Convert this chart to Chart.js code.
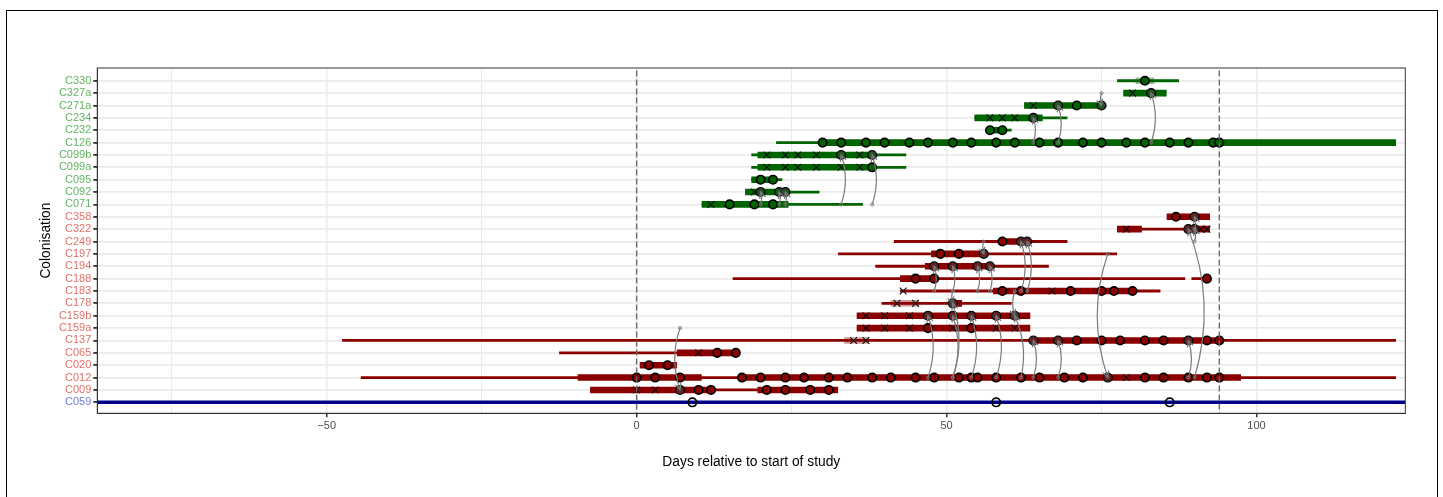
<!DOCTYPE html>
<html><head><meta charset="utf-8">
<script src="https://cdn.jsdelivr.net/npm/chart.js@4.4.1/dist/chart.umd.min.js"></script>
<style>
html,body{margin:0;padding:0;background:#fff;}
#wrap{position:relative;width:1443px;height:497px;overflow:hidden;background:#fff;}
#frame{position:absolute;left:6px;top:10px;width:1430px;height:520px;border:1px solid #000;pointer-events:none;}
canvas{position:absolute;left:0;top:0;}
</style></head><body>
<div id="wrap"><canvas id="c" width="1443" height="497" style="width:1443px;height:497px"></canvas><div id="frame"></div></div>
<script>
// ---------- data ----------
const rows = ['C059','C009','C012','C020','C065','C137','C159a','C159b','C178','C183','C188','C194','C197','C249','C322','C358','C071','C092','C095','C099a','C099b','C126','C232','C234','C271a','C327a','C330'];
const greenRows = ['C071','C092','C095','C099a','C099b','C126','C232','C234','C271a','C327a','C330'];
const blueRows = ['C059'];
const xTickValues = [-75,-50,-25,0,25,50,75,100];
const xLabelStep = 50;
const refDays = [0, 94];

const baseSpans = [['C059',-87,124]];
const thinSpans = [
  ['C009',-7.5,32.5],['C012',-44.5,122.5],['C065',-12.5,16.5],['C137',-47.5,122.5],
  ['C178',39.5,60.5],['C183',42.5,84.5],['C188',15.5,88.5],['C188',89.5,92.5],
  ['C194',38.5,66.5],['C197',32.5,77.5],['C249',41.5,69.5],['C322',77.5,92.5],
  ['C071',10.5,36.5],['C092',17.5,29.5],['C095',18.5,23.5],['C099a',18.5,43.5],
  ['C099b',18.5,43.5],['C126',22.5,122.5],['C232',56.5,60.5],['C234',54.5,69.5],
  ['C330',77.5,87.5]
];
const thickSpans = [
  ['C009',-7.5,12.5],['C009',19.5,32.5],['C012',-9.5,10.5],['C012',16.5,97.5],
  ['C020',0.5,6.5],['C065',6.5,16.5],['C137',63.5,94.5],['C159a',35.5,63.5],
  ['C159b',35.5,63.5],['C178',50.5,52.5],['C183',57.5,80.5],['C188',42.5,48.5],
  ['C194',46.5,57.5],['C197',47.5,56.5],['C249',58.5,63.5],['C322',77.5,81.5],
  ['C322',90.5,92.5],['C358',85.5,92.5],
  ['C071',10.5,24.5],['C092',17.5,24.5],['C095',18.5,22.5],['C099a',19.5,38.5],
  ['C099b',19.5,38.5],['C126',29.5,122.5],['C232',56.5,59.5],['C234',54.5,65.5],
  ['C271a',62.5,75.5],['C327a',78.5,85.5]
];
const faintSpans = [['C137',33.5,37.5],['C178',41,45.5],['C330',80.5,83.5]];

const circleDays = [
  ['C009',[7,10,12,21,24,28,31]],
  ['C012',[0,3,7,17,20,24,27,31,34,38,41,45,48,52,54,55,58,62,65,69,72,76,82,85,89,92,94]],
  ['C020',[2,5]],
  ['C065',[13,16]],
  ['C137',[64,68,71,75,78,82,85,89,92,94]],
  ['C159a',[47,54]],
  ['C159b',[47,51,54,58,61]],
  ['C178',[51]],
  ['C183',[59,62,70,75,77,80]],
  ['C188',[45,48,92]],
  ['C194',[48,51,55,57]],
  ['C197',[49,52,56]],
  ['C249',[59,62,63]],
  ['C322',[89,90]],
  ['C358',[87,90]],
  ['C071',[15,19,22]],
  ['C092',[20,23,24]],
  ['C095',[20,22]],
  ['C099a',[38]],
  ['C099b',[33,38]],
  ['C126',[30,33,37,40,44,47,51,54,58,61,65,68,72,75,79,82,86,89,93,94]],
  ['C232',[57,59]],
  ['C234',[64]],
  ['C271a',[68,71,75]],
  ['C327a',[83]],
  ['C330',[82]]
];
const openCircleDays = [['C059',[9,58,86]]];
const crossDays = [
  ['C009',[0,3]],['C012',[79]],['C065',[10]],['C137',[35,37]],
  ['C159a',[37,40,44,51,58,61]],['C159b',[37,40,44]],['C178',[42,45]],
  ['C183',[43,67]],['C322',[79,91,92]],
  ['C071',[12]],['C092',[19]],['C099a',[21,24,26,29,33,36]],['C099b',[21,24,26,29,36]],
  ['C234',[57,59,61]],['C271a',[64]],['C327a',[80]]
];
// [from row, from day, to row, to day]
const arrows = [
  ['C071',20,'C092',20],['C071',23,'C092',23],['C071',24,'C092',24],
  ['C071',33,'C099b',33],['C071',38,'C099b',38],
  ['C126',64,'C234',64],['C126',68,'C271a',68],['C126',83,'C327a',83],
  ['C327a',75,'C271a',75],
  ['C159a',7,'C009',7],
  ['C249',56,'C197',56],
  ['C183',62,'C249',62],['C183',63,'C249',63],
  ['C183',48,'C194',48],['C183',51,'C194',51],['C183',55,'C194',55],['C183',57,'C194',57],
  ['C183',51,'C178',51],['C183',61,'C159b',61],
  ['C012',47,'C159b',47],['C012',51,'C159b',51],['C012',54,'C159b',54],['C012',58,'C159b',58],['C012',62,'C159b',61],
  ['C012',51,'C178',51],
  ['C012',64,'C137',64],['C012',68,'C137',68],['C012',89,'C137',89],
  ['C197',76,'C012',76],
  ['C012',90,'C322',89],
  ['C249',90,'C322',90],['C322',90,'C358',90]
];

// ---------- styling ----------
const DARK = {red:'#8B0000', green:'#006400', blue:'#00008B'};
const LABEL = {red:'#E0716A', green:'#62B462', blue:'#6F7CD4'};
function groupOf(r){ return blueRows.includes(r) ? 'blue' : (greenRows.includes(r) ? 'green' : 'red'); }
function rowY(r){ return rows.indexOf(r) + 1; }

function spanData(spans, grp){
  const out = [];
  spans.filter(s => groupOf(s[0]) === grp).forEach(s => {
    out.push({x:s[1], y:rowY(s[0])}, {x:s[2], y:rowY(s[0])}, {x:s[2], y:null});
  });
  return out;
}
function pointData(list, grp){
  const out = [];
  list.filter(s => grp === null || groupOf(s[0]) === grp).forEach(s => s[1].forEach(d => out.push({x:d, y:rowY(s[0])})));
  return out;
}
function lineDs(data, color, width, order){
  return {type:'scatter', data, showLine:true, borderColor:color, borderWidth:width, pointRadius:0,
          spanGaps:false, order, borderCapStyle:'butt'};
}

const datasets = [];
['red','green'].forEach(g => {
  const faint = g === 'red' ? 'rgba(139,0,0,0.4)' : 'rgba(0,100,0,0.4)';
  datasets.push(lineDs(spanData(faintSpans, g), faint, 6.5, 9));
  datasets.push(lineDs(spanData(thinSpans, g), DARK[g], 2.8, 8));
  datasets.push(lineDs(spanData(thickSpans, g), DARK[g], 6.6, 7));
});
datasets.push(lineDs(spanData(baseSpans, 'blue'), DARK.blue, 3.6, 7));
['red','green'].forEach(g => {
  datasets.push({type:'scatter', data:pointData(circleDays, g), pointStyle:'circle', pointRadius:4.2,
    pointBackgroundColor:DARK[g], pointBorderColor:'#000', pointBorderWidth:1.7, order:3});
});
datasets.push({type:'scatter', data:pointData(openCircleDays, null), pointStyle:'circle', pointRadius:4.2,
  pointBackgroundColor:'rgba(0,0,0,0)', pointBorderColor:'#000', pointBorderWidth:1.7, order:3});
datasets.push({type:'scatter', data:pointData(crossDays, null), pointStyle:'crossRot', pointRadius:4.8,
  pointBorderColor:'#111', pointBorderWidth:1.1, order:2});
const refData = [];
refDays.forEach(d => refData.push({x:d, y:-100}, {x:d, y:100}, {x:d, y:null}));
const refDs = lineDs(refData, '#6b6b6b', 1.4, 0);
refDs.borderDash = [6,3];
refDs.isRef = true;
datasets.push(refDs);

// ---------- plugins ----------
const arrowPlugin = {
  id:'arrows',
  beforeDatasetDraw(chart, args){
    if (!chart.data.datasets[args.index].isRef) return;
    const {ctx, scales:{x, y}, chartArea:a} = chart;
    ctx.save();
    ctx.beginPath(); ctx.rect(a.left, a.top, a.right-a.left, a.bottom-a.top); ctx.clip();
    arrows.forEach(ar => {
      const x1 = x.getPixelForValue(ar[1]), y1 = y.getPixelForValue(rowY(ar[0]));
      const x2 = x.getPixelForValue(ar[3]), y2 = y.getPixelForValue(rowY(ar[2]));
      const dx = x2-x1, dy = y2-y1;
      const k = 0.17;
      const cx = (x1+x2)/2 - k*dy, cy = (y1+y2)/2 + k*dx;
      ctx.fillStyle = 'rgba(70,70,70,0.5)';
      ctx.beginPath(); ctx.arc(x2, y2, 4.2, 0, Math.PI*2); ctx.fill();
      ctx.strokeStyle = '#7a7a7a'; ctx.lineWidth = 1.2;
      ctx.beginPath(); ctx.moveTo(x1, y1); ctx.quadraticCurveTo(cx, cy, x2, y2); ctx.stroke();
      const ang = Math.atan2(y2-cy, x2-cx);
      const L = 7, sp = 0.45;
      ctx.beginPath();
      ctx.moveTo(x2 - L*Math.cos(ang-sp), y2 - L*Math.sin(ang-sp));
      ctx.lineTo(x2, y2);
      ctx.lineTo(x2 - L*Math.cos(ang+sp), y2 - L*Math.sin(ang+sp));
      ctx.stroke();
      ctx.lineWidth = 1;
      ctx.beginPath(); ctx.arc(x1, y1, 1.5, 0, Math.PI*2); ctx.stroke();
    });
    ctx.restore();
  },
  afterDraw(chart){
    const {ctx, chartArea:a} = chart;
    ctx.save(); ctx.strokeStyle = '#333'; ctx.lineWidth = 1;
    ctx.strokeRect(a.left, a.top, a.right-a.left, a.bottom-a.top);
    ctx.restore();
  }
};

Chart.defaults.font.family = '"Liberation Sans", Arial, sans-serif';
new Chart(document.getElementById('c'), {
  type:'scatter',
  data:{datasets},
  plugins:[arrowPlugin],
  options:{
    responsive:false, animation:false, events:[],
    layout:{padding:{left:37.7, top:68, right:37.7, bottom:26.7}},
    plugins:{legend:{display:false}, tooltip:{enabled:false}},
    scales:{
      x:{type:'linear', min:-87, max:124,
        afterBuildTicks(s){ s.ticks = xTickValues.map(v => ({value:v})); },
        afterFit(s){ s.height = 57; },
        grid:{color:'#EBEBEB', lineWidth:c => (c.tick && c.tick.value % xLabelStep === 0) ? 1.5 : 1.0,
              tickColor:c => (c.tick && c.tick.value % xLabelStep === 0) ? '#333' : 'rgba(0,0,0,0)', tickLength:4},
        border:{display:true, color:'#333', width:1},
        ticks:{autoSkip:false, maxRotation:0, padding:2, color:'#4D4D4D', font:{size:11},
          callback:v => v % xLabelStep === 0 ? (v < 0 ? '\u2212' + (-v) : String(v)) : ''},
        title:{display:true, text:'Days relative to start of study', color:'#000', font:{size:13.8}, padding:0}
      },
      y:{type:'linear', min:0.111, max:28.03,
        afterBuildTicks(s){ s.ticks = rows.map((r,i) => ({value:i+1})); },
        afterFit(s){ s.width = 59.6; },
        grid:{color:'#EBEBEB', lineWidth:1.8, tickColor:'#333', tickLength:4},
        border:{display:true, color:'#333', width:1},
        ticks:{autoSkip:false, padding:2, font:{size:11},
          color:c => LABEL[groupOf(rows[c.tick.value-1])],
          callback:v => rows[v-1]},
        title:{display:true, text:'Colonisation', color:'#000', font:{size:13.8}, padding:0}
      }
    }
  }
});
</script>
</body></html>
